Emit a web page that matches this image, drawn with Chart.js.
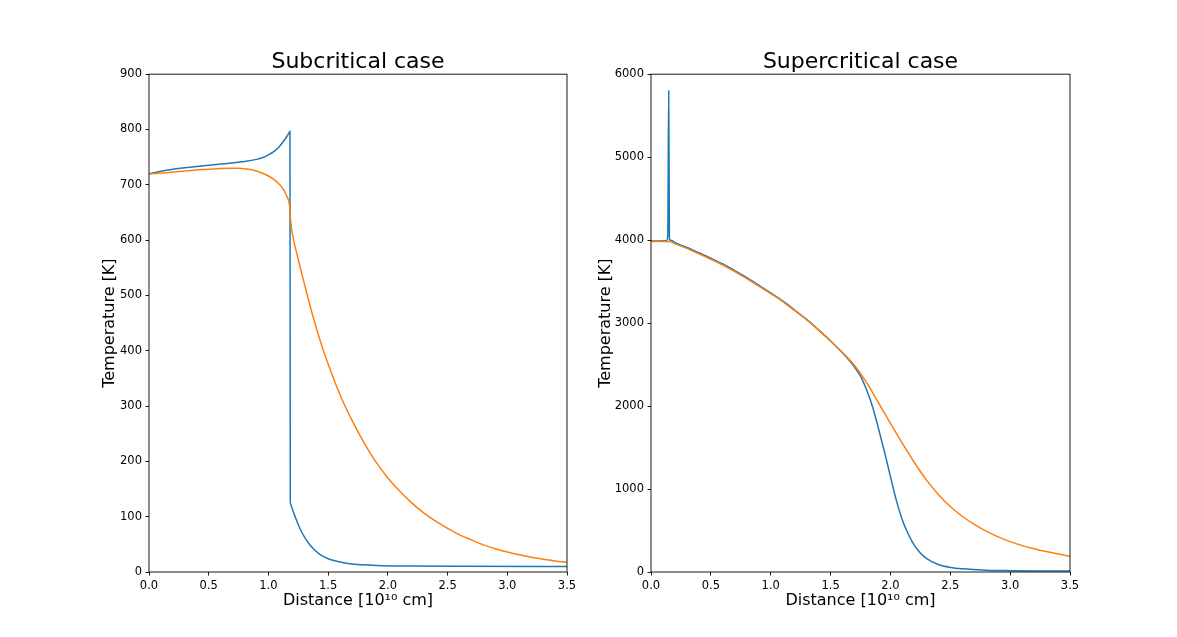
<!DOCTYPE html>
<html>
<head>
<meta charset="utf-8">
<script src="https://cdn.jsdelivr.net/npm/chart.js@4.4.1/dist/chart.umd.min.js"></script>
<style>
  body { margin: 0; background: #fff; }
  canvas { position: absolute; left: 0; top: 0; }
</style>
</head>
<body>
<canvas id="subChart" width="1177" height="637"></canvas>
<canvas id="superChart" width="1177" height="637"></canvas>
<script>
// Subcritical case: distance [1e10 cm] and temperature [K]
var subBlueX = [0.00, 0.10, 0.20, 0.30, 0.40, 0.50, 0.60, 0.70, 0.80, 0.90, 0.95, 1.00, 1.05, 1.09, 1.12, 1.15, 1.17, 1.180,
  1.183, 1.21, 1.24, 1.27, 1.30, 1.34, 1.38, 1.43, 1.50, 1.58, 1.68, 1.80, 1.95, 2.20, 2.60, 3.50];
var subBlueY = [720, 724.5, 728, 730.8, 733.2, 735.4, 737.5, 739.6, 742.2, 746, 749, 754, 761, 769, 777, 786, 793, 797,
  125, 108, 91, 76, 64, 51, 41, 32, 24, 19, 15, 13, 11.5, 10.7, 10.3, 10];
var subBlueDrop = 18; // index of the point at the foot of the vertical drop

var subOrangeX = [0.00, 0.15, 0.30, 0.45, 0.60, 0.70, 0.75, 0.80, 0.85, 0.90, 0.95, 1.00, 1.05, 1.10, 1.13, 1.155, 1.175,
  1.186, 1.20, 1.25, 1.30, 1.35, 1.40, 1.45, 1.50, 1.60, 1.70, 1.80, 1.90, 2.00, 2.10, 2.20, 2.30, 2.40,
  2.50, 2.60, 2.70, 2.80, 2.90, 3.00, 3.10, 3.20, 3.30, 3.40, 3.50];
var subOrangeY = [720, 722, 725, 727.5, 729.5, 730, 729.8, 729, 727.5, 725, 721, 716, 709, 699, 690, 679, 665,
  635, 612, 565, 522, 480, 442, 407, 376, 320, 274, 234, 199, 170, 146, 125, 107, 92,
  79, 67, 58, 49, 42, 36, 31, 26.5, 23, 20, 17.5];

// Supercritical case
var supBlueX = [0.00, 0.13, 0.140, 0.148, 0.154, 0.17, 0.20, 0.30, 0.40, 0.50, 0.60, 0.70, 0.80, 0.90, 1.00,
  1.10, 1.20, 1.30, 1.40, 1.50, 1.60, 1.65, 1.70, 1.75, 1.80, 1.85, 1.90, 1.95, 2.00, 2.05, 2.10, 2.15,
  2.20, 2.25, 2.30, 2.40, 2.50, 2.60, 2.80, 3.00, 3.25, 3.50];
var supBlueY = [3990, 3992, 4050, 5800, 4010, 3995, 3970, 3912, 3848, 3782, 3712, 3632, 3547, 3457, 3365,
  3268, 3158, 3045, 2918, 2785, 2640, 2560, 2470, 2360, 2200, 1995, 1730, 1450, 1150, 860, 625, 455,
  320, 230, 165, 90, 55, 38, 22, 16, 13, 12];

var supOrangeX = [0.00, 0.15, 0.20, 0.30, 0.40, 0.50, 0.60, 0.70, 0.80, 0.90, 1.00, 1.10, 1.20, 1.30, 1.40,
  1.50, 1.60, 1.70, 1.80, 1.90, 2.00, 2.10, 2.20, 2.30, 2.40, 2.50, 2.60, 2.70, 2.80, 2.90, 3.00,
  3.10, 3.20, 3.30, 3.40, 3.50];
var supOrangeY = [3985, 3985, 3955, 3900, 3835, 3770, 3700, 3620, 3535, 3445, 3355, 3260, 3150, 3040, 2915,
  2785, 2645, 2490, 2285, 2040, 1790, 1550, 1320, 1110, 935, 790, 672, 574, 492, 424, 366,
  318, 279, 246, 216, 190];

var xTicks = [0, 0.5, 1.0, 1.5, 2.0, 2.5, 3.0, 3.5];

Chart.defaults.font.family = "'DejaVu Sans', sans-serif";
Chart.defaults.color = "#000";

function points(xs, ys) {
  return xs.map(function (x, i) { return { x: x, y: ys[i] }; });
}

// box around the plot area, like matplotlib spines
var framePlugin = {
  id: "frame",
  afterDraw: function (chart) {
    var a = chart.chartArea, ctx = chart.ctx;
    ctx.save();
    ctx.strokeStyle = "#000";
    ctx.lineWidth = 0.9;
    ctx.strokeRect(a.left, a.top, a.right - a.left, a.bottom - a.top);
    ctx.restore();
  }
};

// blueParts: list of point arrays, drawn as separate pieces so sharp corners stay sharp
function makeChart(id, title, blueParts, orange, yMax, yStep, pad, yTitlePad) {
  var sets = [{ data: orange, borderColor: "#ff7f0e", order: 0 }];
  blueParts.forEach(function (p) {
    sets.push({ data: p, borderColor: "#1f77b4", order: 1 });
  });
  return new Chart(document.getElementById(id), {
    type: "scatter",
    data: { datasets: sets },
    options: {
      responsive: false,
      animation: false,
      showLine: true,
      elements: {
        point: { radius: 0 },
        line: { borderWidth: 1.5, cubicInterpolationMode: "monotone", fill: false }
      },
      layout: { padding: pad },
      plugins: {
        legend: { display: false },
        tooltip: { enabled: false },
        title: {
          display: true,
          text: title,
          fullSize: false,
          color: "#000",
          font: { size: 22, weight: "normal", lineHeight: 1.1 },
          padding: { top: 50, bottom: 0 }
        }
      },
      scales: {
        x: {
          type: "linear",
          min: 0,
          max: 3.5,
          afterFit: function (s) { s.height = 65; },
          afterBuildTicks: function (s) { s.ticks = xTicks.map(function (v) { return { value: v }; }); },
          ticks: {
            font: { size: 11.5 },
            padding: 3.5,
            callback: function (v) { return Number(v).toFixed(1); }
          },
          grid: { drawOnChartArea: false, tickLength: 3.5, tickColor: "#000", tickWidth: 0.9 },
          border: { display: false },
          title: {
            display: true,
            text: "Distance [10¹⁰ cm]",
            font: { size: 16 },
            padding: { top: 0, bottom: 26.5 }
          }
        },
        y: {
          min: 0,
          max: yMax,
          afterFit: function (s) { s.width = 60; },
          ticks: {
            stepSize: yStep,
            font: { size: 11.5 },
            padding: 3.5,
            callback: function (v) { return String(v); }
          },
          grid: { drawOnChartArea: false, tickLength: 3.5, tickColor: "#000", tickWidth: 0.9 },
          border: { display: false },
          title: {
            display: true,
            text: "Temperature [K]",
            font: { size: 16 },
            padding: { top: yTitlePad, bottom: 0 }
          }
        }
      }
    },
    plugins: [framePlugin]
  });
}

var subBlue = points(subBlueX, subBlueY);
makeChart("subChart", "Subcritical case",
  [subBlue.slice(0, subBlueDrop + 1), subBlue.slice(subBlueDrop)],
  points(subOrangeX, subOrangeY),
  900, 100, { left: 89, right: 610, top: 0, bottom: 0 }, 11);
makeChart("superChart", "Supercritical case",
  [points(supBlueX, supBlueY)],
  points(supOrangeX, supOrangeY),
  6000, 1000, { left: 591, right: 107, top: 0, bottom: 0 }, 5.4);
</script>
</body>
</html>
